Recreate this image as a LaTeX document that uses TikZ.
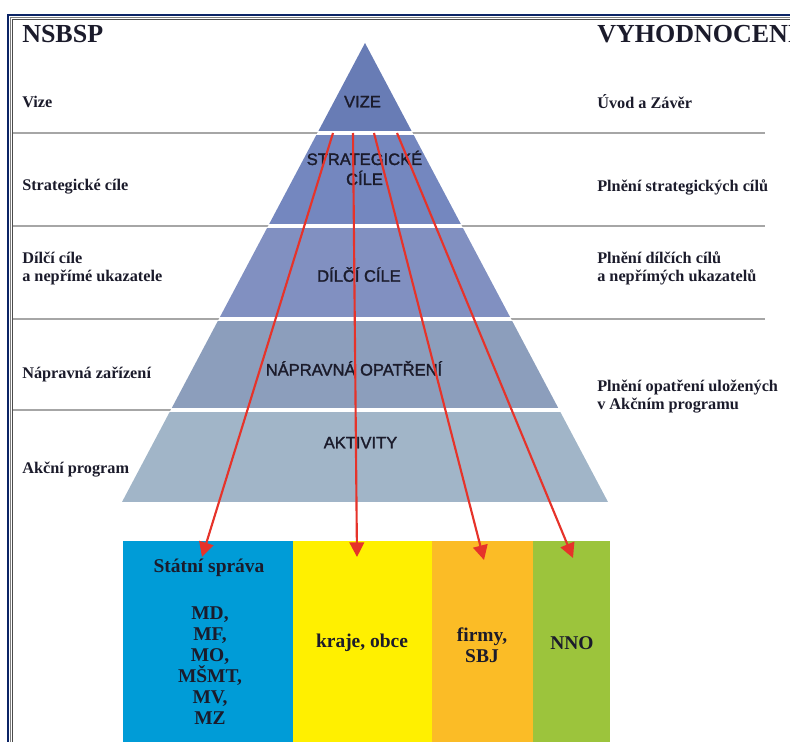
\documentclass[tikz,border=0pt]{standalone}
\usepackage{fontspec}
\setmainfont{Liberation Serif}
\newfontfamily\pyrfont[FakeBold=1.6]{Liberation Sans}
\usetikzlibrary{arrows.meta}
\definecolor{frameblue}{HTML}{0B2466}
\definecolor{rulegrey}{HTML}{A6A6A6}
\definecolor{vizecol}{HTML}{687CB5}
\definecolor{stratcol}{HTML}{7487BF}
\definecolor{dilcicol}{HTML}{8190C1}
\definecolor{napravcol}{HTML}{8C9EBC}
\definecolor{aktivcol}{HTML}{A1B5C8}
\definecolor{statcol}{HTML}{009CD7}
\definecolor{krajcol}{HTML}{FFF000}
\definecolor{firmcol}{HTML}{FBBC26}
\definecolor{nnocol}{HTML}{9CC43C}
\definecolor{arrowred}{HTML}{E6332A}
\definecolor{inkcol}{HTML}{1B1B2B}

\begin{document}
\begin{tikzpicture}[x=0.75pt, y=-0.75pt,
  title/.style={anchor=base west, inner sep=0pt, font=\bfseries\fontsize{19.5}{22}\selectfont, text=inkcol},
  label/.style={anchor=base west, inner sep=0pt, align=left, font=\bfseries\fontsize{12.2}{13.5}\selectfont, text=inkcol},
  layer/.style={anchor=base, inner sep=0pt, align=center, font=\pyrfont\fontsize{12.4}{15}\selectfont, text=inkcol},
  who/.style={inner sep=0pt, align=center, font=\bfseries\fontsize{14.6}{15.75}\selectfont, text=inkcol},
  box/.style={anchor=north west, inner sep=0pt, outer sep=0pt, minimum height=156.75pt},
  sep/.style={draw=rulegrey, line width=1.1pt},
  link/.style={draw=arrowred, line width=1.6pt, -{Triangle[length=11pt, width=11pt]}}]
  \clip (0, 0) rectangle (790, 742);

  \draw [frameblue, line width=2pt] (8, 760) -- (8, 15) -- (800, 15);
  \draw [gray, line width=0.8pt] (10.8, 760) -- (10.8, 17.8) -- (800, 17.8);
  \draw [gray!60!black, line width=0.8pt] (12.4, 760) -- (12.4, 19.4) -- (800, 19.4);

  \draw [sep] (13, 133) -- (765, 133);
  \draw [sep] (13, 226) -- (765, 226);
  \draw [sep] (13, 319) -- (765, 319);
  \draw [sep] (13, 410) -- (300, 410);

  \coordinate (top) at (365, 43);
  \coordinate (bl) at (122, 502);
  \coordinate (br) at (608, 502);
  \fill [white] (top) -- (bl) -- (br) -- cycle;
  \begin{scope}
    \clip (top) -- (bl) -- (br) -- cycle;
    \fill [vizecol] (0, 40) rectangle (790, 131);
    \fill [stratcol] (0, 135) rectangle (790, 224);
    \fill [dilcicol] (0, 228) rectangle (790, 317);
    \fill [napravcol] (0, 321) rectangle (790, 408);
    \fill [aktivcol] (0, 412) rectangle (790, 502);
  \end{scope}

  \node [box, fill=statcol, minimum width=127.5pt] (stat) at (123, 541) {};
  \node [box, fill=krajcol, minimum width=104.25pt] (kraj) at (stat.north east) {};
  \node [box, fill=firmcol, minimum width=75.75pt] (firm) at (kraj.north east) {};
  \node [box, fill=nnocol, minimum width=57.75pt] (nno) at (firm.north east) {};

  \node [title] (nsbsp) at (22, 43) {NSBSP};
  \node [title] (vyhod) at (597, 43) {VYHODNOCENÍ};

  \node [label] (l1) at (22, 108) {Vize};
  \node [label] (l2) at (22, 190.5) {Strategické cíle};
  \node [label] (l3) at (22, 281.7) {Dílčí cíle\\a nepřímé ukazatele};
  \node [label] (l4) at (22, 378) {Nápravná zařízení};
  \node [label] (l5) at (22, 473) {Akční program};

  \node [label] (r1) at (597, 109) {Úvod a Závěr};
  \node [label] (r2) at (597, 191.5) {Plnění strategických cílů};
  \node [label] (r3) at (597, 281.7) {Plnění dílčích cílů\\a nepřímých ukazatelů};
  \node [label] (r4) at (597, 409.5) {Plnění opatření uložených\\v Akčním programu};

  \node [layer] (vize) at (362.5, 107.3) {VIZE};
  \node [layer] (strat) at (364.5, 185) {STRATEGICKÉ\\CÍLE};
  \node [layer] (dilci) at (359, 281.7) {DÍLČÍ CÍLE};
  \node [layer] (naprav) at (354, 375.5) {NÁPRAVNÁ OPATŘENÍ};
  \node [layer] (aktiv) at (360.5, 448.3) {AKTIVITY};

  \node [who] (sprava) at (209, 568) {Státní správa};
  \node [who] (minis) at (210, 666) {MD,\\MF,\\MO,\\MŠMT,\\MV,\\MZ};
  \node [who] (obce) at (362, 643) {kraje, obce};
  \node [who] (sbj) at (482, 645) {firmy,\\SBJ};
  \node [who] (nnotext) at (572, 643) {NNO};

  \coordinate (a1) at (333, 133);
  \coordinate (a2) at (353, 133);
  \coordinate (a3) at (374, 133);
  \coordinate (a4) at (397, 133);
  \coordinate (t1) at (202, 557);
  \coordinate (t2) at (357, 557);
  \coordinate (t3) at (484, 560);
  \coordinate (t4) at (573, 558);
  \draw [link] (a1) to (t1);
  \draw [link] (a2) to (t2);
  \draw [link] (a3) to (t3);
  \draw [link] (a4) to (t4);
\end{tikzpicture}
\end{document}
